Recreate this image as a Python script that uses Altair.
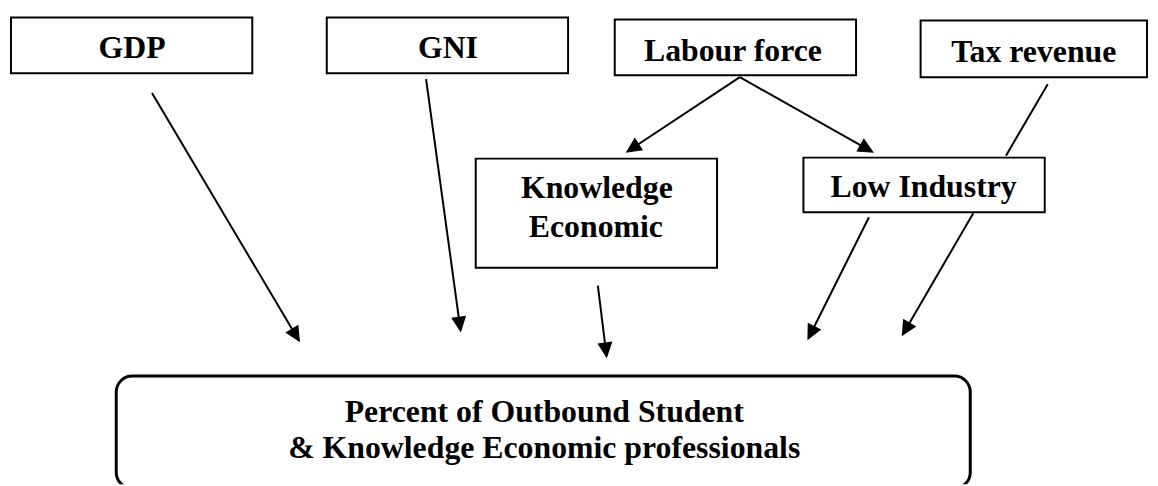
import math
import altair as alt
import pandas as pd

# ---- boxes (pixel coordinates of the diagram) ----
box_names = ["GDP", "GNI", "Labour force", "Tax revenue", "Knowledge Economic", "Low Industry"]
box_x0 = [11, 329, 619, 927, 479, 809]
box_x1 = [254, 572, 862, 1155, 722, 1052]
box_y0 = [16, 16, 18, 19, 158, 157]
box_y1 = [72, 72, 74, 76, 268, 212]

# ---- outcome (rounded) box ----
out_x0 = [117]
out_x1 = [977]
out_y0 = [377]
out_y1 = [490]

# ---- labels ----
label_text = ["GDP", "GNI", "Labour force", "Tax revenue", "Knowledge", "Economic",
              "Low Industry", "Percent of Outbound Student",
              "& Knowledge Economic professionals"]
label_x = [133, 451, 738, 1041, 601, 600, 930, 548, 548]
label_y = [57, 57, 60, 61, 198, 237, 197, 423, 459]

# ---- connectors ----
link_x0 = [153, 429, 745, 745, 1055, 602, 875, 980]
link_y0 = [92, 78, 76, 76, 83, 286, 217, 213]
link_x1 = [302, 464, 630, 880, 1013, 611, 813, 908]
link_y1 = [343, 333, 152, 152, 155, 359, 341, 337]
link_arrow = [True, True, True, True, False, True, True, True]

HEAD_HALF = 8  # half-length of arrowhead

boxes = pd.DataFrame({"name": box_names, "x": box_x0, "x2": box_x1, "y": box_y0, "y2": box_y1})
outbox = pd.DataFrame({"x": out_x0, "x2": out_x1, "y": out_y0, "y2": out_y1})
labels = pd.DataFrame({"text": label_text, "x": label_x, "y": label_y})

rows = []
heads = []
for x0, y0, x1, y1, arr in zip(link_x0, link_y0, link_x1, link_y1, link_arrow):
    dx, dy = x1 - x0, y1 - y0
    L = math.hypot(dx, dy)
    ux, uy = dx / L, dy / L
    if arr:
        cx, cy = x1 - HEAD_HALF * ux, y1 - HEAD_HALF * uy
        ang = math.degrees(math.atan2(dx, -dy)) % 360
        heads.append({"x": cx, "y": cy, "ang": ang})
        rows.append({"x": x0, "y": y0, "x2": cx, "y2": cy})
    else:
        rows.append({"x": x0, "y": y0, "x2": x1, "y2": y1})
links = pd.DataFrame(rows)
heads = pd.DataFrame(heads)

W, H = 1150, 478
xs = alt.Scale(domain=[8, 1158], nice=False, zero=False)
ys = alt.Scale(domain=[8, 486], nice=False, zero=False, reverse=True)

X = lambda f: alt.X(f"{f}:Q", scale=xs, axis=None)
Y = lambda f: alt.Y(f"{f}:Q", scale=ys, axis=None)

box_layer = alt.Chart(boxes).mark_rect(fill="white", stroke="black", strokeWidth=2).encode(
    x=X("x"), x2="x2", y=Y("y"), y2="y2")

out_layer = alt.Chart(outbox).mark_rect(fill="white", stroke="black", strokeWidth=3,
                                        cornerRadius=16, clip=True).encode(
    x=X("x"), x2="x2", y=Y("y"), y2="y2")

link_layer = alt.Chart(links).mark_rule(color="black", strokeWidth=2).encode(
    x=X("x"), x2="x2", y=Y("y"), y2="y2")

head_layer = alt.Chart(heads).mark_point(
    shape="M0,-1L-0.95,1L0.95,1Z", size=256, filled=True, color="black", opacity=1, strokeWidth=0
).encode(x=X("x"), y=Y("y"), angle=alt.Angle("ang:Q", scale=None))

text_layer = alt.Chart(labels).mark_text(
    font="Liberation Serif", fontWeight="bold", fontSize=32, color="black",
    align="center", baseline="alphabetic"
).encode(x=X("x"), y=Y("y"), text="text:N")

chart = alt.layer(out_layer, box_layer, link_layer, head_layer, text_layer).properties(
    width=W, height=H, padding=0, autosize="none", background="white"
).configure_view(stroke=None)

chart.save("out.html", embed_options={"renderer": "svg", "actions": False})
